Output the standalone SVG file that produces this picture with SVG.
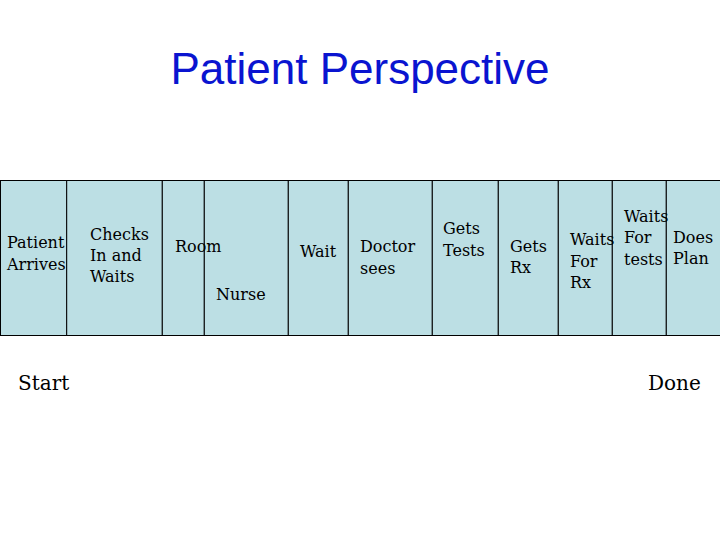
<svg xmlns="http://www.w3.org/2000/svg" width="720" height="540" viewBox="0 0 720 540">
<style>
.cell{fill:#bcdfe4;stroke:#000;stroke-width:1}
.t{font-family:"DejaVu Serif","Liberation Serif",serif;font-size:16px;fill:#000}
.big{font-family:"DejaVu Serif","Liberation Serif",serif;font-size:20px;fill:#000}
.title{font-family:"Liberation Sans",Arial,sans-serif;font-size:44px;fill:#0a14d0}
</style>
<rect width="720" height="540" fill="#fff"/>
<text class="title" x="360" y="84" text-anchor="middle">Patient Perspective</text>
<g id="cells">
<rect class="cell" x="0.5" y="180.5" width="66.2" height="155"/>
<rect class="cell" x="66.7" y="180.5" width="95.6" height="155"/>
<rect class="cell" x="162.3" y="180.5" width="42" height="155"/>
<rect class="cell" x="204.3" y="180.5" width="84" height="155"/>
<rect class="cell" x="288.3" y="180.5" width="60" height="155"/>
<rect class="cell" x="348.3" y="180.5" width="84" height="155"/>
<rect class="cell" x="432.3" y="180.5" width="66" height="155"/>
<rect class="cell" x="498.3" y="180.5" width="60" height="155"/>
<rect class="cell" x="558.3" y="180.5" width="54" height="155"/>
<rect class="cell" x="612.3" y="180.5" width="54" height="155"/>
<rect class="cell" x="666.3" y="180.5" width="60" height="155"/>
</g>
<g id="labels">
<text class="t" x="7" y="248">Patient</text>
<text class="t" x="7" y="269.5">Arrives</text>
<text class="t" x="90" y="239.5">Checks</text>
<text class="t" x="90" y="261">In and</text>
<text class="t" x="90" y="282">Waits</text>
<text class="t" x="175" y="251.7">Room</text>
<text class="t" x="216" y="300">Nurse</text>
<text class="t" x="300" y="257.3">Wait</text>
<text class="t" x="360" y="252.3">Doctor</text>
<text class="t" x="360" y="273.7">sees</text>
<text class="t" x="443" y="234">Gets</text>
<text class="t" x="443" y="255.6">Tests</text>
<text class="t" x="510" y="251.7">Gets</text>
<text class="t" x="510" y="273">Rx</text>
<text class="t" x="570" y="245">Waits</text>
<text class="t" x="570" y="266.7">For</text>
<text class="t" x="570" y="288">Rx</text>
<text class="t" x="624" y="221.7">Waits</text>
<text class="t" x="624" y="243">For</text>
<text class="t" x="624" y="264.7">tests</text>
<text class="t" x="673" y="242.7">Does</text>
<text class="t" x="673" y="264">Plan</text>
</g>
<text class="big" x="18" y="390">Start</text>
<text class="big" x="648" y="390">Done</text>
</svg>
